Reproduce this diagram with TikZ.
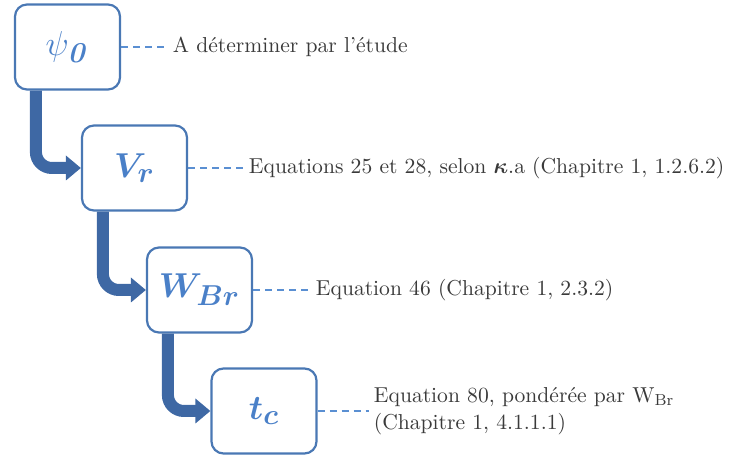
\documentclass[tikz,border=0pt]{standalone}
\usetikzlibrary{arrows.meta}
\usepackage{amsmath}
\usepackage{bm}
\definecolor{boxblue}{HTML}{4A78B4}
\definecolor{textblue}{HTML}{4A80C8}
\definecolor{flowblue}{HTML}{3E68A4}
\definecolor{dashblue}{HTML}{5A8FD2}
\definecolor{notegray}{HTML}{3A3A3A}

\begin{document}
\begin{tikzpicture}[x=0.5pt,y=-0.5pt,line width=0.9pt,>=Stealth,
  var/.style={draw=boxblue,line width=1.1pt,rounded corners=6pt,fill=white,
    minimum width=52.5pt,minimum height=42.5pt,text=textblue,
    font=\fontsize{19}{22}\selectfont},
  note/.style={anchor=west,text=notegray,inner sep=2pt,align=left,
    font=\fontsize{10.8}{13.5}\selectfont},
  link/.style={dashblue,line width=0.9pt,dash pattern=on 3.5pt off 2.5pt},
  flow/.style={flowblue,line width=6pt,rounded corners=8pt,
    -{Triangle[length=7.5pt,width=12pt]}}]
\useasboundingbox (0,0) rectangle (730,459);
% variables
\node[var] (psi) at (67.5,47) {$\psi_{\boldsymbol{\mathit{0}}}$};
\node[var] (vr) at (134.5,168) {$\bm{V_r}$};
\node[var] (wbr) at (199.5,290) {$\bm{W_{Br}}$};
\node[var] (tc) at (264,411) {$\bm{t_c}$};
% sources
\node[note] (notepsi) at (168,47) {A déterminer par l'étude};
\node[note] (notevr) at (244,168) {Equations 25 et 28, selon $\bm{\kappa}$.a (Chapitre 1, 1.2.6.2)};
\node[note] (notewbr) at (311,290) {Equation 46 (Chapitre 1, 2.3.2)};
\node[note] (notetc) at (369,411) {Equation 80, pondérée par W$_{\mathrm{Br}}$\\(Chapitre 1, 4.1.1.1)};
% dashed links
\draw[link] (psi.east) -- (notepsi.west);
\draw[link] (vr.east) -- (notevr.west);
\draw[link] (wbr.east) -- (notewbr.west);
\draw[link] (tc.east) -- (notetc.west);
% flow
\draw[flow] ([xshift=11pt]psi.south west) |- (vr.west);
\draw[flow] ([xshift=11pt]vr.south west) |- (wbr.west);
\draw[flow] ([xshift=11pt]wbr.south west) |- (tc.west);
\end{tikzpicture}
\end{document}
